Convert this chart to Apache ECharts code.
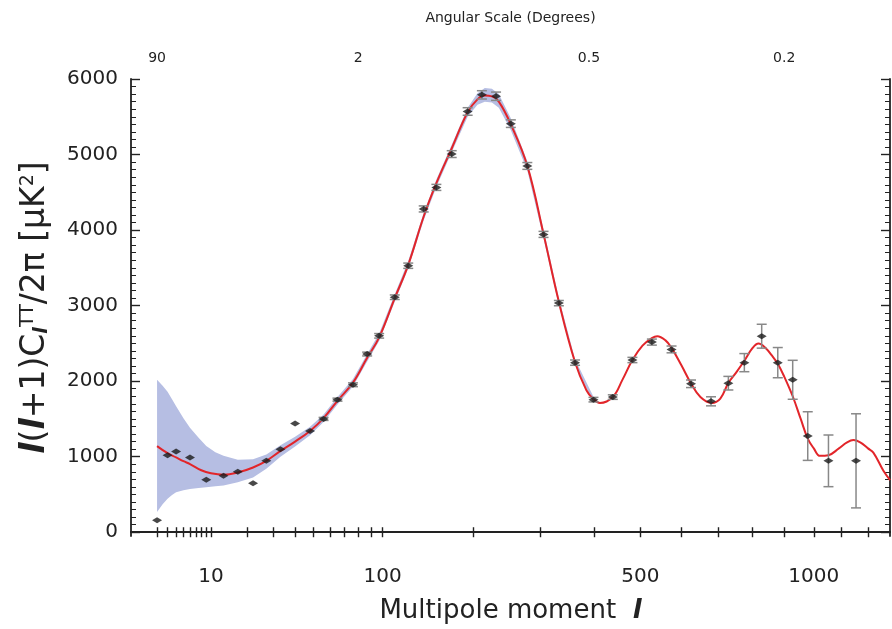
<!DOCTYPE html>
<html>
<head>
<meta charset="utf-8">
<script src="https://cdn.jsdelivr.net/npm/echarts@6/dist/echarts.min.js"></script>
<style>
  html, body { margin: 0; padding: 0; background: #fff; }
  #main { width: 892px; height: 629px; }
</style>
</head>
<body>
<div id="main"></div>
<script>
// 测量点（分箱后的功率谱）
const pointL = [2, 3, 4, 6, 9, 13, 17, 22, 27, 33, 40, 48, 56, 65, 76, 87, 97, 111, 124, 140,
  154, 172, 192, 211, 231, 253, 279, 306, 333, 363, 399, 439, 482, 527, 575, 625, 679, 728, 775, 828,
  879, 928, 979, 1052, 1154];
const pointV = [160, 1020, 1067, 988, 695, 748, 801, 647, 945, 1098, 1440, 1339, 1500, 1755, 1952, 2359, 2600, 3111, 3528, 4280,
  4565, 5006, 5570, 5790, 5772, 5409, 4849, 3943, 3033, 2245, 1755, 1789, 2280, 2517, 2420, 1965, 1733, 1973, 2245, 2595,
  2245, 2018, 1273, 945, 945];
const pointErr = [0, 0, 0, 0, 0, 0, 0, 0, 0, 0, 0, 0, 20, 20, 25, 25, 30, 30, 35, 40,
  40, 45, 50, 55, 55, 50, 45, 40, 35, 35, 30, 30, 35, 40, 45, 50, 60, 90, 120, 158,
  200, 258, 322, 342, 623];

// 理论曲线（红线）
const modelL = [2, 3, 4, 5, 6, 8, 10, 13, 17, 22, 27, 33, 40, 48, 56, 65, 76, 87, 97, 111,
  124, 140, 154, 172, 192, 205, 215, 225, 235, 253, 279, 306, 333, 363, 385, 399, 412, 439, 460, 482,
  505, 527, 540, 560, 575, 600, 625, 650, 681, 705, 728, 750, 775, 800, 818, 840, 860, 879, 900, 928,
  955, 979, 1000, 1022, 1052, 1090, 1120, 1144, 1170, 1200, 1221, 1261, 1288];
const modelV = [1140, 1046, 990, 940, 902, 820, 780, 761, 790, 857, 945, 1076, 1200, 1340, 1510, 1740, 1980, 2310, 2580, 3100,
  3540, 4180, 4620, 5080, 5560, 5730, 5780, 5770, 5700, 5400, 4850, 3950, 3050, 2250, 1880, 1760, 1711, 1790, 2020, 2280,
  2470, 2570, 2595, 2540, 2440, 2210, 1970, 1790, 1711, 1770, 1975, 2110, 2270, 2440, 2498, 2440, 2340, 2230, 2060, 1800,
  1500, 1240, 1110, 1011, 1020, 1110, 1190, 1221, 1190, 1110, 1054, 814, 690];

// 宇宙方差带（蓝色）
const bandL = [2, 2.5, 3, 3.5, 4, 5, 6, 7.5, 9, 11, 13, 17, 22, 27, 33, 40, 48, 56, 65, 76, 87, 97, 111, 124, 140,
  154, 172, 192, 205, 215, 225, 235, 253, 279, 306, 333, 363, 399];
const bandHi = [2018, 1940, 1860, 1760, 1667, 1510, 1383, 1250, 1142, 1060, 1011, 960, 967, 1030, 1150, 1265, 1395, 1560, 1790, 2030, 2360, 2630, 3150, 3590, 4230,
  4670, 5130, 5620, 5810, 5880, 5870, 5800, 5480, 4910, 4010, 3100, 2290, 1795];
const bandLo = [267, 370, 442, 492, 529, 556, 573, 586, 595, 607, 617, 661, 726, 840, 1000, 1135, 1285, 1460, 1690, 1930, 2260, 2530, 3050, 3490, 4130,
  4570, 5030, 5500, 5660, 5700, 5690, 5620, 5320, 4790, 3890, 3000, 2210, 1725];

// 刻度
const xTickLabels = [10, 100, 500, 1000];
const xTickL = [2, 3, 4, 5, 6, 7, 8, 9, 10, 20, 30, 40, 50, 60, 70, 80, 90, 100,
  200, 300, 400, 500, 600, 700, 800, 900, 1000, 1100, 1200];
const topTickL = [2, 80, 390, 900];
const topTickLabels = ['90', '2', '0.5', '0.2'];
const yTickLabels = [0, 1000, 2000, 3000, 4000, 5000, 6000];
const yMinorTicks = [];
for (let v = 0; v <= 6000; v += 100) yMinorTicks.push(v);

// x轴是 l^0.4 的刻度
const P = 0.4;
const fx = l => Math.pow(l, P);
const X_MIN = 0.743, X_MAX = 17.535;

const container = document.getElementById('main');
const myChart = echarts.init(container);

const FONT = 'DejaVu Sans';
const INK = '#222';

const xBase = {
  type: 'value',
  min: X_MIN,
  max: X_MAX,
  splitLine: { show: false },
  axisLine: { lineStyle: { color: INK, width: 1.8 } },
  axisTick: { inside: true, length: 5, customValues: xTickL.map(fx), lineStyle: { color: INK, width: 1.4 } }
};

const yBase = {
  type: 'value',
  min: -50,
  max: 6000,
  splitLine: { show: false },
  axisLine: { show: true, lineStyle: { color: INK, width: 1.8 } },
  axisLabel: { show: false }
};

myChart.setOption({
  animation: false,
  grid: { left: 131, right: 2, top: 79, bottom: 88 },
  xAxis: [
    Object.assign({}, xBase, {
      position: 'bottom',
      axisLabel: {
        customValues: xTickLabels.map(fx),
        formatter: v => String(Math.round(Math.pow(v, 1 / P))),
        fontFamily: FONT, fontSize: 20, color: INK, margin: 31
      },
      name: 'Multipole moment  {it|l}',
      nameLocation: 'middle',
      nameGap: 62,
      nameTextStyle: {
        fontFamily: FONT, fontSize: 26, color: INK,
        rich: { it: { fontFamily: FONT, fontSize: 26, fontStyle: 'italic', fontWeight: 'bold', color: INK } }
      }
    }),
    Object.assign({}, xBase, {
      position: 'top',
      axisLabel: {
        customValues: topTickL.map(fx),
        formatter: v => {
          const i = topTickL.findIndex(l => Math.abs(fx(l) - v) < 1e-6);
          return i >= 0 ? topTickLabels[i] : '';
        },
        fontFamily: FONT, fontSize: 14, color: INK, margin: 14
      },
      name: 'Angular Scale (Degrees)',
      nameLocation: 'middle',
      nameGap: 54,
      nameTextStyle: { fontFamily: FONT, fontSize: 14, color: INK }
    })
  ],
  yAxis: [
    Object.assign({}, yBase, {
      position: 'left',
      axisTick: { inside: true, length: 9, customValues: yTickLabels, lineStyle: { color: INK, width: 1.4 } },
      axisLabel: {
        show: true, customValues: yTickLabels, formatter: v => String(v),
        fontFamily: FONT, fontSize: 20, color: INK, margin: 13
      },
      name: '{it|l}{n|(}{it|l}{n|+1)C}{sub|l}{sup|TT}{n|/2π [μK}{sup|2}{n|]}',
      nameLocation: 'middle',
      nameGap: 79,
      nameTextStyle: {
        rich: {
          n: { fontFamily: FONT, fontSize: 33, color: INK },
          it: { fontFamily: FONT, fontSize: 33, fontStyle: 'italic', fontWeight: 'bold', color: INK },
          sub: { fontFamily: FONT, fontSize: 19, fontStyle: 'italic', fontWeight: 'bold', color: INK, verticalAlign: 'bottom' },
          sup: { fontFamily: FONT, fontSize: 19, color: INK, verticalAlign: 'top' }
        }
      }
    }),
    Object.assign({}, yBase, {
      position: 'left',
      axisLine: { show: false },
      axisTick: { inside: true, length: 5, customValues: yMinorTicks, lineStyle: { color: INK, width: 1 } }
    }),
    Object.assign({}, yBase, {
      position: 'right',
      axisTick: { inside: true, length: 9, customValues: yTickLabels, lineStyle: { color: INK, width: 1.4 } }
    }),
    Object.assign({}, yBase, {
      position: 'right',
      axisLine: { show: false },
      axisTick: { inside: true, length: 5, customValues: yMinorTicks, lineStyle: { color: INK, width: 1 } }
    })
  ],
  series: [
    {
      // 蓝色带
      type: 'custom',
      xAxisIndex: 0,
      yAxisIndex: 0,
      silent: true,
      data: [[fx(bandL[0]), bandLo[0]]],
      renderItem: (params, api) => {
        const pts = [];
        for (let i = 0; i < bandL.length; i++) pts.push(api.coord([fx(bandL[i]), bandHi[i]]));
        for (let i = bandL.length - 1; i >= 0; i--) pts.push(api.coord([fx(bandL[i]), bandLo[i]]));
        return { type: 'polygon', shape: { points: pts }, style: { fill: '#b6bee3' } };
      },
      z: 1
    },
    {
      type: 'line',
      xAxisIndex: 0,
      yAxisIndex: 0,
      data: modelL.map((l, i) => [fx(l), modelV[i]]),
      smooth: 0.4,
      symbol: 'none',
      lineStyle: { color: '#e2252a', width: 2 },
      z: 3
    },
    {
      // 误差棒
      type: 'custom',
      xAxisIndex: 0,
      yAxisIndex: 0,
      data: pointL.map((l, i) => [fx(l), pointV[i], pointErr[i]]),
      renderItem: (params, api) => {
        const err = api.value(2);
        if (!err) return null;
        const x = api.value(0), y = api.value(1);
        const top = api.coord([x, y + err]);
        const bot = api.coord([x, y - err]);
        const st = { stroke: '#888', lineWidth: 1.5 };
        return {
          type: 'group',
          children: [
            { type: 'line', shape: { x1: top[0], y1: top[1], x2: bot[0], y2: bot[1] }, style: st },
            { type: 'line', shape: { x1: top[0] - 5, y1: top[1], x2: top[0] + 5, y2: top[1] }, style: st },
            { type: 'line', shape: { x1: bot[0] - 5, y1: bot[1], x2: bot[0] + 5, y2: bot[1] }, style: st }
          ]
        };
      },
      z: 4
    },
    {
      type: 'scatter',
      xAxisIndex: 0,
      yAxisIndex: 0,
      data: pointL.map((l, i) => [fx(l), pointV[i]]),
      symbol: 'diamond',
      symbolSize: [10, 6],
      itemStyle: { color: '#1a1a1a' },
      z: 5
    }
  ]
});

// 随窗口大小变化
let resizeObserver = new ResizeObserver(() => myChart?.resize());
resizeObserver.observe(container);
</script>
</body>
</html>
